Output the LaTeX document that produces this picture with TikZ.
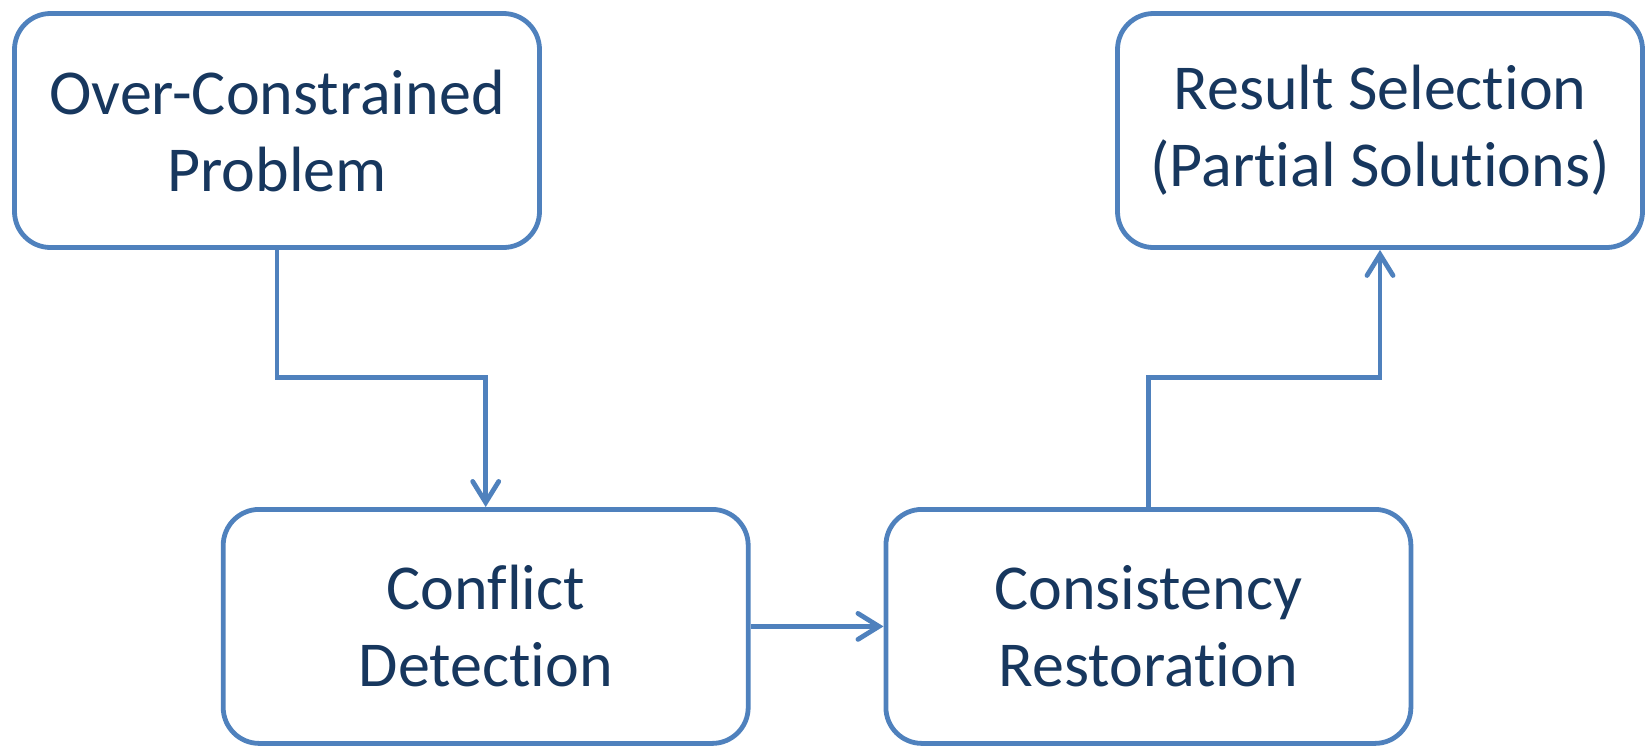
\documentclass[tikz,border=0pt]{standalone}
\usepackage{fontspec}
\setmainfont[RawFeature=-liga]{Carlito}
\usetikzlibrary{arrows.meta}
\definecolor{boxblue}{HTML}{4F81BD}
\definecolor{textnavy}{HTML}{17375E}
\begin{document}
\begin{tikzpicture}[x=1pt,y=-1pt,
  stage/.style={draw=boxblue, line width=4.8pt, rounded corners=36pt,
    rectangle, minimum width=525pt, minimum height=234pt, align=center,
    text=textnavy, font=\fontsize{64pt}{77pt}\selectfont, inner sep=0pt},
  flow/.style={draw=boxblue, line width=4.8pt,
    -{Straight Barb[length=21pt, width=26pt, line cap=round]}}]
  \useasboundingbox (0,0) rectangle (1652,748);
  % process stages
  \node[stage] (op) at (277,130.5) {Over-Constrained\\Problem};
  \node[stage] (rs) at (1380,130.5) {Result Selection\\(Partial Solutions)};
  \node[stage] (cd) at (485.7,626.4) {Conflict\\Detection};
  \node[stage] (cr) at (1148.4,626.4) {Consistency\\Restoration};
  % elbow height shared by both routed connectors
  \coordinate (mid) at (0,377.5);
  \draw[flow] (op.south) -- (op.south |- mid) -| (cd.north);
  \draw[flow] (cd.east) -- (cr.west);
  \draw[flow] (cr.north) -- (cr.north |- mid) -| (rs.south);
\end{tikzpicture}
\end{document}
